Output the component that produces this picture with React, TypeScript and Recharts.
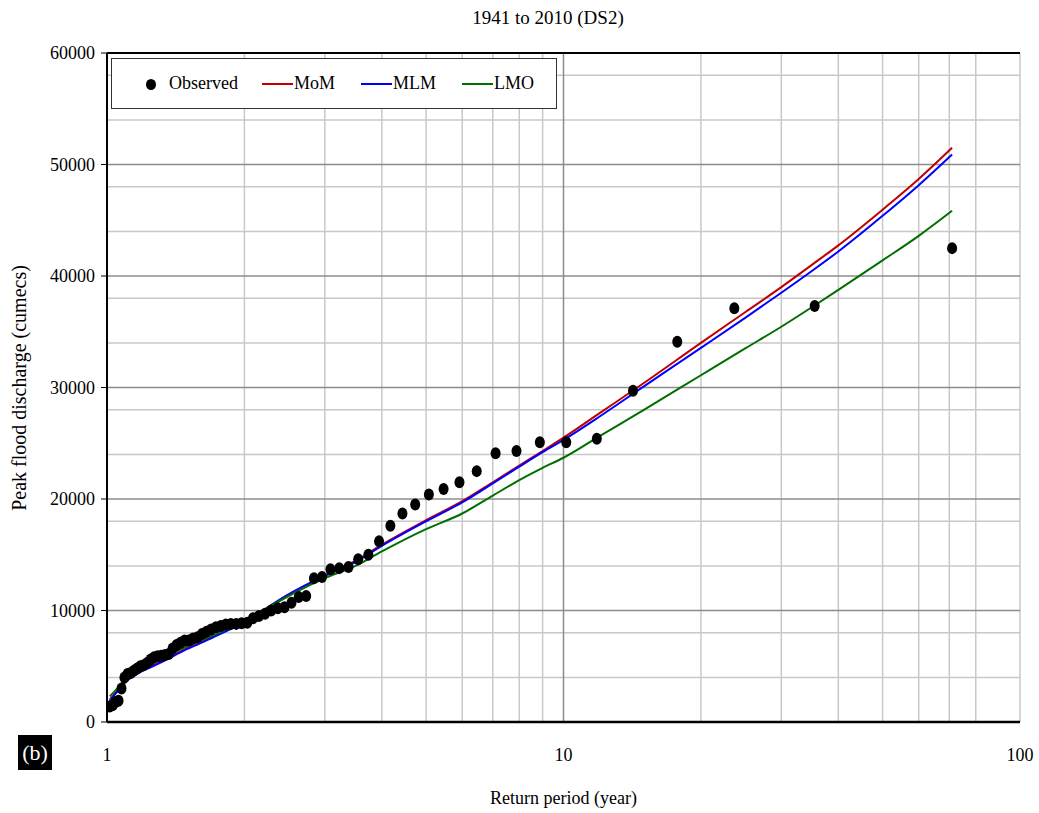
import { ComposedChart, Line, Scatter, XAxis, YAxis, CartesianGrid } from 'recharts';

// Weibull return periods of the 70 annual peaks (1941-2010), largest first
const obsT = [
  71, 35.5, 23.67, 17.75, 14.2, 11.83, 10.14, 8.875, 7.889, 7.1,
  6.455, 5.917, 5.462, 5.071, 4.733, 4.438, 4.176, 3.944, 3.737, 3.55,
  3.381, 3.227, 3.087, 2.958, 2.84, 2.731, 2.63, 2.536, 2.448, 2.367,
  2.29, 2.219, 2.152, 2.088, 2.029, 1.972, 1.919, 1.868, 1.821, 1.775,
  1.732, 1.69, 1.651, 1.614, 1.578, 1.543, 1.511, 1.479, 1.449, 1.42,
  1.392, 1.365, 1.34, 1.315, 1.291, 1.268, 1.246, 1.224, 1.203, 1.183,
  1.164, 1.145, 1.127, 1.109, 1.092, 1.076, 1.06, 1.044, 1.029, 1.014,
];
const obsQ = [
  42500, 37300, 37100, 34100, 29700, 25400, 25100, 25100, 24300, 24100,
  22500, 21500, 20900, 20400, 19500, 18700, 17600, 16200, 15000, 14600,
  13900, 13800, 13700, 13000, 12900, 11300, 11200, 10700, 10300, 10200,
  10000, 9700, 9500, 9300, 8900, 8850, 8800, 8800, 8750, 8600,
  8500, 8300, 8100, 7900, 7600, 7500, 7300, 7300, 7100, 6900,
  6600, 6100, 6000, 5950, 5900, 5800, 5600, 5300, 5100, 5000,
  4800, 4600, 4400, 4300, 4000, 3000, 1900, 1800, 1500, 1400,
];

// fitted distribution curves
const fitT = [1.014, 1.05, 1.1, 1.2, 1.3, 1.5, 1.7, 2, 2.5, 3, 3.5, 4, 5, 6, 7, 8, 9, 10, 12, 15, 20, 25, 30, 35, 40, 50, 60, 71];
const momQ = [2000, 2750, 3700, 4700, 5350, 6650, 7650, 9000, 11450, 13150, 14450, 15900, 18100, 19800, 21500, 23000, 24300, 25500, 27700, 30400, 34000, 36750, 39000, 41000, 42750, 45950, 48700, 51500];
const mlmQ = [1900, 2650, 3600, 4600, 5250, 6550, 7550, 8950, 11450, 13100, 14350, 15800, 18000, 19700, 21400, 22900, 24200, 25300, 27400, 30100, 33550, 36250, 38500, 40450, 42200, 45400, 48150, 50900];
const lmoQ = [2300, 2950, 3900, 4900, 5550, 6800, 7750, 9050, 11300, 12900, 14000, 15300, 17300, 18700, 20300, 21700, 22800, 23700, 25640, 28000, 31100, 33500, 35450, 37200, 38750, 41400, 43600, 45850];

const xTicks = [1, 10, 100];
const yTicks = [0, 10000, 20000, 30000, 40000, 50000, 60000];
const minorX = [2, 3, 4, 5, 6, 7, 8, 9, 20, 30, 40, 50, 60, 70, 80, 90, 100];
const minorY = [2000, 4000, 6000, 8000, 12000, 14000, 16000, 18000, 22000, 24000, 26000, 28000, 32000, 34000, 36000, 38000, 42000, 44000, 46000, 48000, 52000, 54000, 56000, 58000];
const majorY = [10000, 20000, 30000, 40000, 50000];

const observed = obsT.map((t, i) => ({ t, v: obsQ[i] }));
const mom = fitT.map((t, i) => ({ t, v: momQ[i] }));
const mlm = fitT.map((t, i) => ({ t, v: mlmQ[i] }));
const lmo = fitT.map((t, i) => ({ t, v: lmoQ[i] }));

const FONT = '"Liberation Serif", "DejaVu Serif", serif';
const tickStyle = { fontFamily: FONT, fontSize: 18, fill: '#000' };

const Dot = (props: any) => <ellipse cx={props.cx} cy={props.cy} rx={5} ry={6} fill="#000" />;

const legendItems = [
  { name: 'MoM', color: '#c00000', left: 262 },
  { name: 'MLM', color: '#0000ff', left: 361 },
  { name: 'LMO', color: '#006e00', left: 462 },
];

export default function App() {
  return (
    <div style={{ position: 'absolute', left: 0, top: 0, width: 1039, height: 813, background: '#fff', fontFamily: FONT }}>
      <ComposedChart width={1039} height={813} margin={{ top: 53, right: 19, bottom: 51, left: 37 }}>
        <CartesianGrid horizontalValues={minorY} verticalValues={minorX} stroke="#c8c8c8" strokeWidth={1.5} />
        <CartesianGrid horizontalValues={majorY} verticalValues={[10]} stroke="#8c8c8c" strokeWidth={1.5} />
        <CartesianGrid horizontalValues={[60000]} vertical={false} stroke="#000" strokeWidth={2} />
        <XAxis
          dataKey="t"
          type="number"
          scale="log"
          domain={[1, 100]}
          ticks={xTicks}
          allowDataOverflow
          height={40}
          tickLine={false}
          tickSize={0}
          tickMargin={26}
          axisLine={{ stroke: '#000', strokeWidth: 2.5 }}
          tick={tickStyle}
        />
        <YAxis
          dataKey="v"
          type="number"
          domain={[0, 60000]}
          ticks={yTicks}
          width={70}
          tickSize={6}
          tickMargin={6}
          tickLine={{ stroke: '#000' }}
          axisLine={{ stroke: '#000', strokeWidth: 2 }}
          tick={tickStyle}
        />
        <Line data={mom} dataKey="v" type="monotone" stroke="#c00000" strokeWidth={2} dot={false} isAnimationActive={false} />
        <Line data={mlm} dataKey="v" type="monotone" stroke="#0000ff" strokeWidth={2} dot={false} isAnimationActive={false} />
        <Line data={lmo} dataKey="v" type="monotone" stroke="#006e00" strokeWidth={2} dot={false} isAnimationActive={false} />
        <Scatter data={observed} dataKey="v" shape={Dot} isAnimationActive={false} />
      </ComposedChart>

      <div style={{ position: 'absolute', left: 448, width: 200, top: 7, textAlign: 'center', fontSize: 19 }}>
        1941 to 2010 (DS2)
      </div>
      <div style={{ position: 'absolute', left: 0, width: 1127, top: 788, textAlign: 'center', fontSize: 18 }}>
        Return period (year)
      </div>
      <div style={{ position: 'absolute', left: 19, top: 388, width: 0, height: 0 }}>
        <div style={{ position: 'absolute', transform: 'translate(-50%, -50%) rotate(-90deg)', whiteSpace: 'nowrap', fontSize: 20 }}>
          Peak flood discharge (cumecs)
        </div>
      </div>
      <div style={{ position: 'absolute', left: 18, top: 735, width: 34, height: 35, background: '#000', color: '#fff', fontSize: 22, lineHeight: '35px', textAlign: 'center' }}>
        (b)
      </div>

      <div style={{ position: 'absolute', left: 111, top: 58, width: 444, height: 49, border: '1px solid #333', background: '#fff', fontSize: 18 }}>
        <div style={{ position: 'absolute', left: 34, top: 20, width: 10, height: 11, borderRadius: '50%', background: '#000' }} />
        <div style={{ position: 'absolute', left: 57, top: 13, lineHeight: '22px' }}>Observed</div>
        {legendItems.map((it) => (
          <div key={it.name}>
            <div style={{ position: 'absolute', left: it.left - 112, top: 24, width: 31, height: 2, background: it.color }} />
            <div style={{ position: 'absolute', left: it.left - 112 + 32, top: 13, lineHeight: '22px' }}>{it.name}</div>
          </div>
        ))}
      </div>
    </div>
  );
}
